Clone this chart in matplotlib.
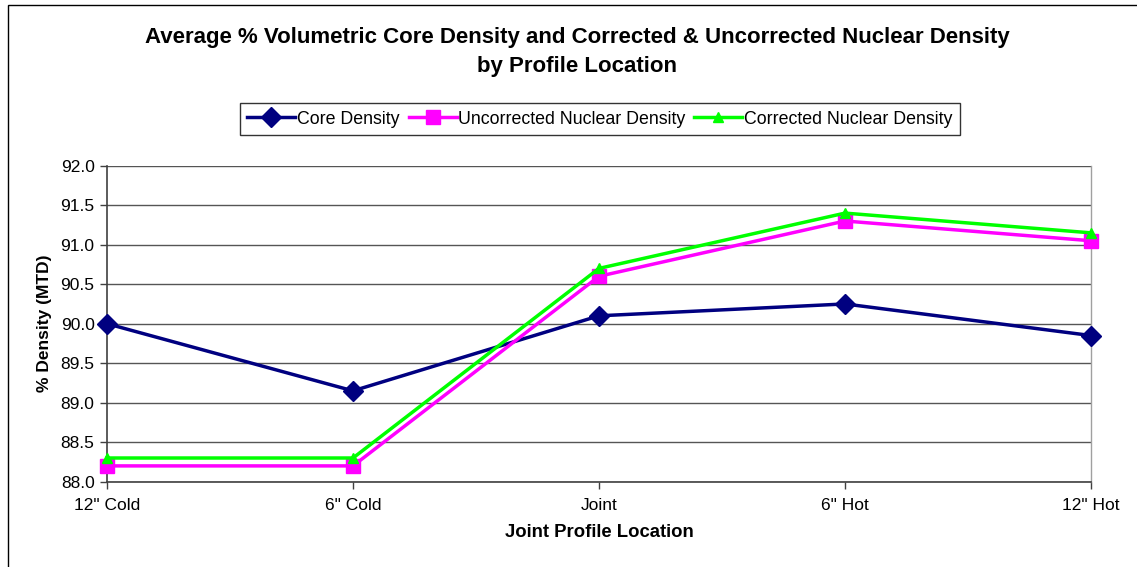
import matplotlib
matplotlib.use('Agg')
import matplotlib.pyplot as plt
from matplotlib.patches import Rectangle

# data
locations = ['12" Cold', '6" Cold', 'Joint', '6" Hot', '12" Hot']
core_density = [90.0, 89.15, 90.1, 90.25, 89.85]
uncorrected_nuclear = [88.2, 88.2, 90.6, 91.3, 91.05]
corrected_nuclear = [88.3, 88.3, 90.7, 91.4, 91.15]
y_ticks = [88.0, 88.5, 89.0, 89.5, 90.0, 90.5, 91.0, 91.5, 92.0]

plt.rcParams['font.family'] = ['Liberation Sans', 'DejaVu Sans']

W, H = 1137, 567
fig = plt.figure(figsize=(W / 100, H / 100), dpi=100)

# outer chart frame (partly cropped on right/bottom in the reference)
fig.patches.append(Rectangle((8 / W, -0.1), 1.2, 1 - 5 / H + 0.1, transform=fig.transFigure,
                             fill=False, edgecolor='black', linewidth=1.0))

ax = fig.add_axes([107 / W, 1 - 481.7 / H, (1091 - 107) / W, (481.7 - 165.7) / H])
x = list(range(len(locations)))

ax.plot(x, core_density, color='#000080', linewidth=2.5, marker='D', markersize=10,
        label='Core Density', zorder=3, clip_on=False)
ax.plot(x, uncorrected_nuclear, color='#FF00FF', linewidth=2.5, marker='s', markersize=10,
        label='Uncorrected Nuclear Density', zorder=4, clip_on=False)
ax.plot(x, corrected_nuclear, color='#00FF00', linewidth=2.5, marker='^', markersize=7,
        label='Corrected Nuclear Density', zorder=5, clip_on=False)

ax.set_xlim(0, len(locations) - 1)
ax.set_ylim(88.0, 92.0)
ax.set_yticks(y_ticks)
ax.set_yticklabels([f'{v:.1f}' for v in y_ticks])
ax.set_xticks(x)
ax.set_xticklabels(locations)
ax.tick_params(axis='both', labelsize=12.5, direction='out', length=5, width=1, color='#404040')
ax.tick_params(axis='x', pad=7)
ax.tick_params(axis='y', pad=4)
ax.yaxis.grid(True, color='#555555', linewidth=1)
ax.set_axisbelow(True)
for side in ['left', 'bottom']:
    ax.spines[side].set_color('#404040')
    ax.spines[side].set_linewidth(1.2)
ax.spines['top'].set_visible(False)
ax.spines['right'].set_color('#a0a0a0')
ax.spines['right'].set_linewidth(1.0)

ax.set_ylabel('% Density (MTD)', fontsize=12.5, fontweight='bold', labelpad=6)
ax.set_xlabel('Joint Profile Location', fontsize=13.3, fontweight='bold', labelpad=8)

fig.text(577 / W, 1 - 52 / H,
         'Average % Volumetric Core Density and Corrected & Uncorrected Nuclear Density\nby Profile Location',
         ha='center', va='center', fontsize=16, fontweight='bold', linespacing=1.55)

leg = fig.legend(loc='center', bbox_to_anchor=(600 / W, 1 - 119 / H), ncol=3, fontsize=12.8,
                 frameon=True, fancybox=False, edgecolor='black', handlelength=2.7,
                 handletextpad=0.1, columnspacing=0.5, borderpad=0.4)
leg.get_frame().set_linewidth(1.0)

fig.savefig('out.png', dpi=100)
